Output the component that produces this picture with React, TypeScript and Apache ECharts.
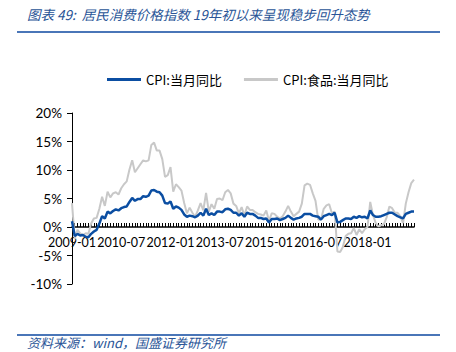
import React, { useEffect, useRef } from "react";
import * as echarts from "echarts";

const startYear = 2009;
const monthCount = 126;
const categories: string[] = [];
for (let i = 0; i < monthCount; i++) {
  const y = startYear + Math.floor(i / 12);
  const m = (i % 12) + 1;
  categories.push(`${y}-${m < 10 ? "0" + m : m}`);
}

const cpiYoY = [
  1.0, -1.6, -1.2, -1.5, -1.4, -1.7, -1.8, -1.2, -0.8, -0.5, 0.6, 1.9,
  1.5, 2.7, 2.4, 2.8, 3.1, 2.9, 3.3, 3.5, 3.6, 4.4, 5.1, 4.6,
  4.9, 4.9, 5.4, 5.3, 5.5, 6.4, 6.5, 6.2, 6.1, 5.5, 4.2, 4.1,
  4.5, 3.2, 3.6, 3.4, 3.0, 2.2, 1.8, 2.0, 1.9, 1.7, 2.0, 2.5,
  2.0, 3.2, 2.1, 2.4, 2.1, 2.7, 2.7, 2.6, 3.1, 3.2, 3.0, 2.5,
  2.5, 2.0, 2.4, 1.8, 2.5, 2.3, 2.3, 2.0, 1.6, 1.6, 1.4, 1.5,
  0.8, 1.4, 1.4, 1.5, 1.2, 1.4, 1.6, 2.0, 1.6, 1.3, 1.5, 1.6,
  1.8, 2.3, 2.3, 2.3, 2.0, 1.9, 1.8, 1.3, 1.9, 2.1, 2.3, 2.1,
  2.5, 0.8, 0.9, 1.2, 1.5, 1.5, 1.4, 1.8, 1.6, 1.9, 1.7, 1.8,
  1.5, 2.9, 2.1, 1.8, 1.8, 1.9, 2.1, 2.3, 2.5, 2.5, 2.2, 1.9,
  1.7, 1.5, 2.3, 2.5, 2.7, 2.7,
];

const foodCpiYoY = [
  4.2, -2.1, -0.5, -1.1, -1.4, -1.1, -1.2, 0.6, 1.5, 1.6, 3.2, 5.3,
  3.7, 6.2, 5.2, 5.9, 6.1, 5.7, 6.8, 7.5, 8.0, 10.1, 11.7, 9.6,
  10.3, 11.0, 11.7, 11.5, 11.7, 14.4, 14.8, 13.4, 13.4, 11.9, 8.8, 9.1,
  10.5, 6.2, 7.5, 7.0, 6.4, 4.2, 2.4, 3.4, 2.5, 1.8, 2.9, 4.2,
  2.9, 6.0, 2.7, 4.0, 3.2, 4.9, 5.0, 4.7, 6.1, 6.5, 5.9, 4.1,
  3.7, 2.4, 3.5, 2.0, 3.6, 3.0, 3.0, 2.6, 2.3, 2.2, 2.0, 2.9,
  1.1, 2.4, 2.3, 1.8, 1.5, 1.9, 2.7, 3.7, 2.7, 1.9, 2.3, 2.7,
  4.1, 7.3, 7.6, 7.4, 5.9, 4.6, 1.3, 1.3, 3.2, 3.8, 4.0, 2.4,
  2.7, -4.3, -4.4, -3.5, -1.6, -1.2, -1.1, -0.2, -1.4, -0.4, -1.1, -0.4,
  0.0, 4.4, 2.1, 0.7, 0.1, 0.3, 0.5, 1.7, 3.6, 3.3, 2.5, 2.5,
  1.9, 0.7, 4.1, 6.1, 7.7, 8.3,
];

const seriesNames = ["CPI:当月同比", "CPI:食品:当月同比"];
const titleText = "图表 49:  居民消费价格指数 19年初以来呈现稳步回升态势";
const sourceText = "资料来源：wind，国盛证券研究所";

const yMin = -10;
const yMax = 20;

export default function App() {
  const ref = useRef<HTMLDivElement>(null);
  useEffect(() => {
    document.body.style.margin = "0";
    const chart = echarts.init(ref.current!, null, { renderer: "svg" });
    const latin = "Lato, 'Noto Sans', sans-serif";
    const gridTop = 113;
    const gridBottom = 68;
    const plotH = 352 - gridTop - gridBottom;
    const zeroOffset = -(plotH * (0 - yMin)) / (yMax - yMin);
    chart.setOption({
      animation: false,
      backgroundColor: "#ffffff",
      legend: {
        left: 102,
        top: 68,
        icon: "rect",
        itemWidth: 34,
        itemHeight: 3,
        itemGap: 22,
        textStyle: { fontSize: 13, color: "#000", fontFamily: "'Noto Sans CJK SC', sans-serif" },
        data: seriesNames,
      },
      grid: { left: 72, right: 42, top: gridTop, bottom: gridBottom },
      xAxis: {
        type: "category",
        data: categories,
        boundaryGap: false,
        offset: zeroOffset,
        axisLine: { onZero: false, lineStyle: { color: "#000", width: 1.5 } },
        axisTick: { show: true, interval: 0, inside: true, length: 4, lineStyle: { color: "#000" } },
        axisLabel: {
          interval: 17,
          color: "#000",
          fontSize: 12.5,
          lineHeight: 12,
          fontFamily: latin,
          margin: 9,
          showMinLabel: true,
          hideOverlap: false,
        },
        splitLine: { show: false },
      },
      yAxis: {
        type: "value",
        min: yMin,
        max: yMax,
        interval: 5,
        axisLine: { show: true, lineStyle: { color: "#000" } },
        axisTick: { show: true, length: 5, lineStyle: { color: "#000" } },
        axisLabel: {
          color: "#000",
          fontSize: 13.5,
          lineHeight: 11,
          fontFamily: latin,
          formatter: "{value}%",
          margin: 10,
        },
        splitLine: { show: false },
      },
      series: [
        {
          name: seriesNames[1],
          type: "line",
          data: foodCpiYoY,
          showSymbol: false,
          lineStyle: { color: "#c8c8c8", width: 2 },
          itemStyle: { color: "#c8c8c8" },
          z: 2,
        },
        {
          name: seriesNames[0],
          type: "line",
          data: cpiYoY,
          showSymbol: false,
          lineStyle: { color: "#0b4ea2", width: 2.5 },
          itemStyle: { color: "#0b4ea2" },
          z: 3,
        },
      ],
      graphic: [
        {
          type: "text",
          left: 27,
          top: 7,
          style: {
            text: titleText,
            fill: "#2a5597",
            fontSize: 13.5,
            fontStyle: "italic",
            fontFamily: "'Noto Sans CJK SC', sans-serif",
          },
        },
        {
          type: "line",
          shape: { x1: 17, y1: 32, x2: 440, y2: 32 },
          style: { stroke: "#4a76b8", lineWidth: 2 },
        },
        {
          type: "line",
          shape: { x1: 17, y1: 335, x2: 440, y2: 335 },
          style: { stroke: "#4a76b8", lineWidth: 2 },
        },
        {
          type: "text",
          left: 27,
          top: 336,
          style: {
            text: sourceText,
            fill: "#2a5597",
            fontSize: 13,
            fontStyle: "italic",
            fontFamily: "'Noto Sans CJK SC', sans-serif",
          },
        },
      ],
    });
    return () => chart.dispose();
  }, []);
  return <div ref={ref} style={{ width: 456, height: 352, position: "absolute", left: 0, top: 0 }} />;
}
